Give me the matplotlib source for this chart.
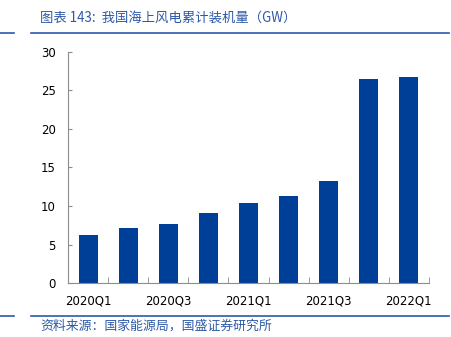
import matplotlib.pyplot as plt
from matplotlib.lines import Line2D

plt.rcParams['font.family'] = ['Noto Sans CJK SC', 'DejaVu Sans']

# data
quarters = ['2020Q1', '2020Q2', '2020Q3', '2020Q4', '2021Q1',
            '2021Q2', '2021Q3', '2021Q4', '2022Q1']
capacity = [6.3, 7.1, 7.7, 9.1, 10.4, 11.3, 13.3, 26.5, 26.8]
yticks = [0, 5, 10, 15, 20, 25, 30]

title = '图表 143:  我国海上风电累计装机量（GW）'
source = '资料来源：国家能源局，国盛证券研究所'

blue = '#003F98'
line_blue = '#2E5AA8'
gray = '#8C8C8C'

fig = plt.figure(figsize=(4.51, 3.37), dpi=100)
ax = fig.add_axes([0.151, 0.160, 0.800, 0.686])

x = range(len(quarters))
ax.bar(x, capacity, width=0.48, color=blue, zorder=2)

ax.set_xlim(-0.5, len(quarters) - 0.5)
ax.set_ylim(0, 30)
ax.set_yticks(yticks)
ax.set_xticks(list(x)[::2])
ax.set_xticklabels(quarters[::2])
ax.set_xticks([i + 0.5 for i in range(len(quarters))], minor=True)

for s in ['top', 'right']:
    ax.spines[s].set_visible(False)
for s in ['left', 'bottom']:
    ax.spines[s].set_color(gray)
    ax.spines[s].set_linewidth(0.8)

ax.tick_params(axis='y', direction='in', length=3, color=gray,
               labelsize=8.5, pad=9, labelfontfamily='DejaVu Sans')
ax.tick_params(axis='x', which='major', length=0, labelsize=8.5, pad=8,
               labelfontfamily='DejaVu Sans')
ax.tick_params(axis='x', which='minor', direction='in', length=4, color=gray)

# header / footer
fig.text(0.089, 0.948, title, fontsize=9.6, color=line_blue, ha='left', va='center',
         style='italic')
fig.text(0.089, 0.033, source, fontsize=9.3, color=line_blue, ha='left', va='center',
         style='italic')
for yy in [0.902, 0.062]:
    fig.add_artist(Line2D([0.0, 0.03], [yy, yy], color=line_blue, lw=1.2))
    fig.add_artist(Line2D([0.069, 0.995], [yy, yy], color=line_blue, lw=1.2))

fig.savefig('out.png', dpi=100)
